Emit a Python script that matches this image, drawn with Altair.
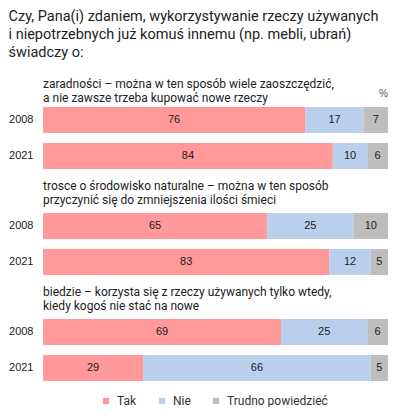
import altair as alt
import pandas as pd

title_lines = [
    "Czy, Pana(i) zdaniem, wykorzystywanie rzeczy używanych",
    "i niepotrzebnych już komuś innemu (np. mebli, ubrań)",
    "świadczy o:",
]
group_titles = [
    ["zaradności – można w ten sposób wiele zaoszczędzić,",
     "a nie zawsze trzeba kupować nowe rzeczy"],
    ["trosce o środowisko naturalne – można w ten sposób",
     "przyczynić się do zmniejszenia ilości śmieci"],
    ["biedzie – korzysta się z rzeczy używanych tylko wtedy,",
     "kiedy kogoś nie stać na nowe"],
]
years = ["2008", "2021"]
categories = ["Tak", "Nie", "Trudno powiedzieć"]
colors = ["#FF999A", "#B9CFEC", "#BEBEBE"]
tak = [[76, 84], [65, 83], [69, 29]]
nie = [[17, 10], [25, 12], [25, 66]]
trudno = [[7, 6], [10, 5], [6, 5]]

LABEL_FONT = "Liberation Sans"
TITLE_FONT = "Roboto"


def group_df(i):
    rows = []
    for j, y in enumerate(years):
        for k, (cat, vals) in enumerate(zip(categories, [tak, nie, trudno])):
            rows.append({"year": y, "cat": cat, "order": k, "value": vals[i][j]})
    return pd.DataFrame(rows)


def panel(i):
    base = alt.Chart(group_df(i)).transform_stack(
        stack="value", groupby=["year"], as_=["x0", "x1"],
        sort=[alt.SortField("order", order="ascending")],
    ).transform_calculate(mid="(datum.x0 + datum.x1) / 2")
    y = alt.Y("year:N", title=None, sort=years,
              scale=alt.Scale(paddingInner=10 / 36, paddingOuter=0),
              axis=alt.Axis(domain=False, ticks=False, labelPadding=10,
                            labelFontSize=11, labelFont=LABEL_FONT,
                            labelColor="#222"))
    bars = base.mark_bar().encode(
        y=y,
        x=alt.X("x0:Q", scale=alt.Scale(domain=[0, 100]), axis=None),
        x2="x1:Q",
        color=alt.Color("cat:N", scale=alt.Scale(domain=categories, range=colors),
                        legend=alt.Legend(title=None, orient="none",
                                          direction="horizontal",
                                          legendX=57, legendY=288,
                                          symbolType="square", symbolSize=40,
                                          symbolStrokeWidth=0,
                                          labelFontSize=12, labelFont=TITLE_FONT,
                                          labelColor="#333", columnPadding=19,
                                          labelOffset=5)),
    )
    text = base.mark_text(fontSize=11, font=LABEL_FONT, color="#222").encode(
        y=alt.Y("year:N", sort=years),
        x=alt.X("mid:Q"),
        text="value:Q",
    )
    layers = [bars, text]
    offset = 6
    if i == 0:
        pct = alt.Chart(pd.DataFrame({"t": ["%"]})).mark_text(
            fontSize=10, font=LABEL_FONT, color="#555", align="right",
            baseline="alphabetic"
        ).encode(text="t:N", x=alt.value(345), y=alt.value(-10))
        layers.append(pct)
        offset = -16
    return alt.layer(*layers).properties(
        width=345, height=62,
        title=alt.TitleParams(group_titles[i], anchor="start", frame="group",
                              fontSize=12, font=TITLE_FONT, fontWeight="normal",
                              color="#222", lineHeight=14, offset=offset),
    )


chart = alt.vconcat(panel(0), panel(1), panel(2), spacing=11).properties(
    title=alt.TitleParams(title_lines, anchor="start", fontSize=14.5,
                          font=TITLE_FONT, fontWeight="normal", color="#222",
                          lineHeight=18, offset=18),
    padding={"left": 0, "top": 0, "right": 0, "bottom": 0},
).configure_view(stroke=None)

chart.save("out.html", embed_options={"renderer": "svg", "actions": False})
